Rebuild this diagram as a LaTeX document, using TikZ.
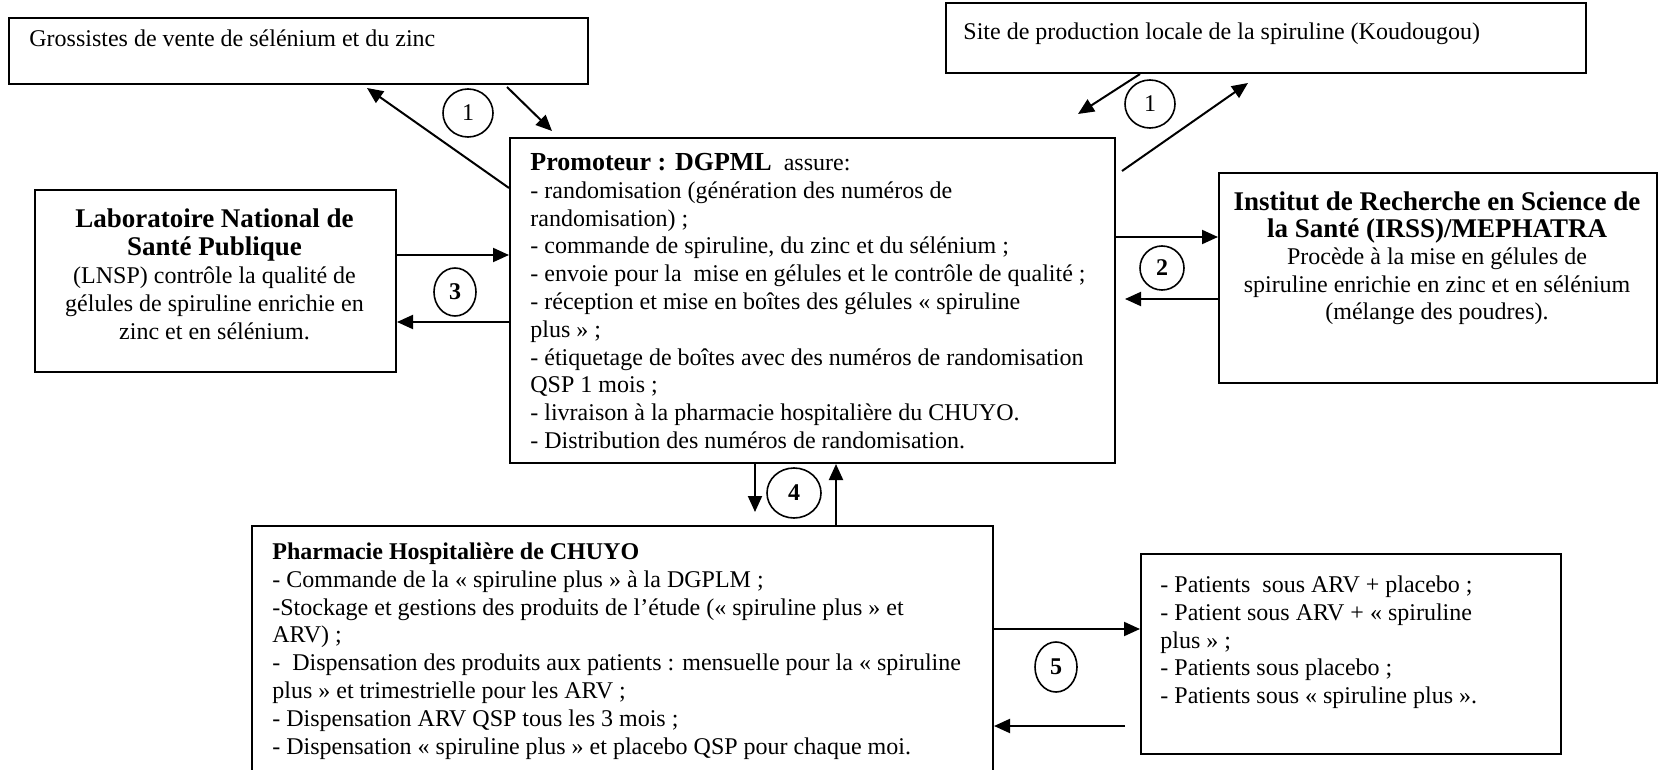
\documentclass[tikz,border=0pt]{standalone}
\usepackage{fontspec}
\setmainfont{Liberation Serif}
\usetikzlibrary{arrows.meta,shapes.geometric,calc}
\tikzset{
  box/.style={draw, line width=1pt, inner sep=0pt, anchor=north west},
  txt/.style={inner sep=0pt, font=\fontsize{12}{13.9}\selectfont},
  num/.style={draw, ellipse, line width=0.8pt, inner sep=0pt, font=\fontsize{12}{14}\selectfont},
  arr/.style={line width=1pt, -{Triangle[length=8pt,width=7pt]}},
}
\newcommand{\topstrut}{\rule{0pt}{10pt}}
\newcommand{\hdr}{\fontsize{13.5}{15}\selectfont\bfseries}
\begin{document}
\begin{tikzpicture}[x=0.5pt,y=-0.5pt]
\useasboundingbox (0,0) rectangle (1660,770);
\clip (0,0) rectangle (1660,770);
% boxes
\node[box, minimum width=289.5pt, minimum height=33pt] (gross) at (8,17) {};
\node[box, minimum width=320pt, minimum height=35pt] (site) at (945,2) {};
\node[box, minimum width=302.5pt, minimum height=162.5pt] (prom) at (509,137) {};
\node[box, minimum width=180.5pt, minimum height=91pt] (lab) at (34,189) {};
\node[box, minimum width=219pt, minimum height=105pt] (irss) at (1218,172) {};
\node[box, minimum width=370.5pt, minimum height=130pt] (pharm) at (251,525) {};
\node[box, minimum width=210pt, minimum height=100pt] (pat) at (1140,553) {};
% texts
\node[txt, anchor=base west] (grosst) at (29,47) {Grossistes de vente de sélénium et du zinc};
\node[txt, anchor=base west] (sitet) at (963,40) {Site de production locale de la spiruline (Koudougou)};
\node[txt, anchor=north west, align=left] (promt) at (530,150) {\topstrut{\fontsize{13}{14}\selectfont\bfseries Promoteur : DGPML}\ \ assure:\\
- randomisation (génération des numéros de\\
randomisation) ;\\
- commande de spiruline, du zinc et du sélénium ;\\
- envoie pour la\ \ mise en gélules et le contrôle de qualité ;\\
- réception et mise en boîtes des gélules « spiruline\\
plus » ;\\
- étiquetage de boîtes avec des numéros de randomisation\\
QSP 1 mois ;\\
- livraison à la pharmacie hospitalière du CHUYO.\\
- Distribution des numéros de randomisation.};
\node[txt, anchor=north, align=center, font=\fontsize{12}{14}\selectfont] (labt) at (214.5,207) {\topstrut{\hdr Laboratoire National de}\\
{\hdr Santé Publique}\\
(LNSP) contrôle la qualité de\\
gélules de spiruline enrichie en\\
zinc et en sélénium.};
\node[txt, anchor=north, align=center, font=\fontsize{12}{13.6}\selectfont] (irsst) at (1437,190) {\topstrut{\hdr Institut de Recherche en Science de}\\
{\hdr la Santé (IRSS)/MEPHATRA}\\
Procède à la mise en gélules de\\
spiruline enrichie en zinc et en sélénium\\
(mélange des poudres).};
\node[txt, anchor=north west, align=left] (pharmt) at (272,539) {\topstrut\textbf{Pharmacie Hospitalière de CHUYO}\\
- Commande de la « spiruline plus » à la DGPLM ;\\
-Stockage et gestions des produits de l’étude (« spiruline plus » et\\
ARV) ;\\
-\ \ Dispensation des produits aux patients : mensuelle pour la « spiruline\\
plus » et trimestrielle pour les ARV ;\\
- Dispensation ARV QSP tous les 3 mois ;\\
- Dispensation « spiruline plus » et placebo QSP pour chaque moi.};
\node[txt, anchor=north west, align=left] (patt) at (1160,572) {\topstrut- Patients\ \ sous ARV + placebo ;\\
- Patient sous ARV + « spiruline\\
plus » ;\\
- Patients sous placebo ;\\
- Patients sous « spiruline plus ».};
% numbered circles
\node[num, minimum width=25pt, minimum height=24pt] (c1a) at (468,113) {1};
\node[num, minimum width=25pt, minimum height=24pt] (c1b) at (1150,104) {1};
\node[num, minimum width=22pt, minimum height=22pt, font=\fontsize{12}{14}\selectfont\bfseries] (c2) at (1162,268) {2};
\node[num, minimum width=21pt, minimum height=24pt, font=\fontsize{12}{14}\selectfont\bfseries] (c3) at (455,292) {3};
\node[num, minimum width=27pt, minimum height=25pt, font=\fontsize{12}{14}\selectfont\bfseries] (c4) at (794,493) {4};
\node[num, minimum width=21pt, minimum height=25pt, font=\fontsize{12}{14}\selectfont\bfseries] (c5) at (1056,667) {5};
% free ends
\coordinate (a1) at (367,88);
\coordinate (a2s) at (507,87);
\coordinate (a2) at (552,131);
\coordinate (b1) at (1078,114);
\coordinate (b2s) at (1122,171);
\coordinate (b2) at (1248,83);
\coordinate (i2) at (1125,299);
\coordinate (p4) at (755,512);
\coordinate (p5) at (1125,726);
% connectors
\draw[arr] (prom.west |- 0,188) -- (a1);
\draw[arr] (a2s) -- (a2);
\draw[arr] (site.south -| 1140,0) -- (b1);
\draw[arr] (b2s) -- (b2);
\draw[arr] (lab.east |- 0,255) -- (prom.west |- 0,255);
\draw[arr] (prom.west |- 0,322) -- (lab.east |- 0,322);
\draw[arr] (prom.east |- 0,237) -- (irss.west |- 0,237);
\draw[arr] (irss.west |- 0,299) -- (i2);
\draw[arr] (prom.south -| 755,0) -- (p4);
\draw[arr] (pharm.north -| 836,0) -- (prom.south -| 836,0);
\draw[arr] (pharm.east |- 0,629) -- (pat.west |- 0,629);
\draw[arr] (p5) -- (pharm.east |- 0,726);
\end{tikzpicture}
\end{document}
